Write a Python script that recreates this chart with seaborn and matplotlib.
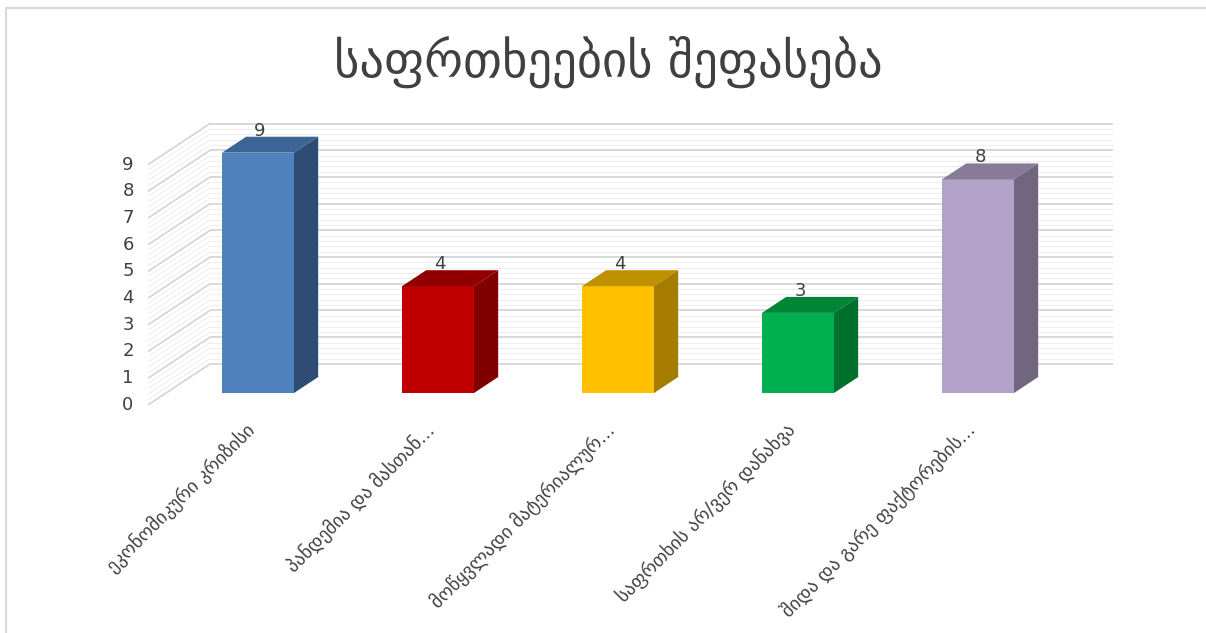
import matplotlib
matplotlib.use("Agg")
import matplotlib.pyplot as plt
from matplotlib.patches import Polygon
from matplotlib.lines import Line2D
import seaborn as sns
import pandas as pd
import numpy as np

# Chart data
title = "საფრთხეების შეფასება"
categories = [
    "ეკონომიკური კრიზისი",
    "პანდემია და მასთან...",
    "მოწყვლადი მატერიალურ...",
    "საფრთხის არ/ვერ დანახვა",
    "შიდა და გარე ფაქტორების...",
]
values = [9, 4, 4, 3, 8]
y_ticks = list(range(0, 10))

# Face colours (front, top, side) for each bar
front_colors = ["#4F81BD", "#C00000", "#FFC000", "#00B050", "#B3A2C7"]
top_colors = ["#3C6494", "#900000", "#BF9000", "#008536", "#887B98"]
side_colors = ["#2F4D74", "#800000", "#A67C00", "#00702E", "#706680"]

sns.set_theme(style="white")
plt.rcParams["font.family"] = ["DejaVu Sans"]

W, H = 1206, 633
fig = plt.figure(figsize=(W / 100, H / 100), dpi=100)
ax = fig.add_axes([0, 0, 1, 1])

df = pd.DataFrame({"category": categories, "value": values})
sns.barplot(data=df, x="category", y="value", hue="category",
            palette=front_colors, width=0.4, legend=False, ax=ax,
            saturation=1, linewidth=0, zorder=3)

# pixel scale of the data axes
px_x = 180.0      # pixels per category step
px_y = 26.7       # pixels per value unit
x0_px = 258.0     # first category centre (from left)
y0_px = 393.0     # baseline of bar fronts (from top)
ax.set_xlim(-x0_px / px_x, (W - x0_px) / px_x)
ax.set_ylim(-(H - y0_px) / px_y, y0_px / px_y)
ax.axis("off")

def dx(p):
    return p / px_x

def dy(p):
    return p / px_y

# depth vector of the box (front plane -> back wall), in pixels
depth_px = np.array([62.0, -41.0])
t_bar_front, t_bar_back = 0.29, 0.68

def depth_offset(t_from, t_to):
    d = depth_px * (t_to - t_from)
    return dx(d[0]), dy(-d[1])

# back wall and side wall gridlines
wall_dx, wall_dy = depth_offset(t_bar_front, 1.0)
front_dx, front_dy = depth_offset(t_bar_front, 0.0)
wall_left = dx(210 - x0_px)
wall_right = dx(1113 - x0_px)

minor_levels = np.arange(0, 9.0001, 0.2)
for lv in minor_levels:
    is_major = abs(lv - round(lv)) < 1e-6
    col = "#D6D6D6" if is_major else "#EEEEEE"
    lw = 1.3 if is_major else 0.8
    ax.plot([wall_left, wall_right], [lv + wall_dy, lv + wall_dy],
            color=col, lw=lw, zorder=1 if is_major else 0.5,
            solid_capstyle="butt")
    ax.plot([wall_left + front_dx - wall_dx, wall_left],
            [lv + front_dy, lv + wall_dy],
            color=col, lw=lw, zorder=1 if is_major else 0.5,
            solid_capstyle="butt")

# 3D top and side faces built from the seaborn bar rectangles
bdx, bdy = depth_offset(t_bar_front, t_bar_back)
bars = [p for p in ax.patches]
for i, bar in enumerate(bars):
    x0 = bar.get_x()
    x1 = x0 + bar.get_width()
    h = bar.get_height()
    top = Polygon([[x0, h], [x1, h], [x1 + bdx, h + bdy], [x0 + bdx, h + bdy]],
                  closed=True, facecolor=top_colors[i], edgecolor="none", zorder=3)
    side = Polygon([[x1, 0], [x1, h], [x1 + bdx, h + bdy], [x1 + bdx, bdy]],
                   closed=True, facecolor=side_colors[i], edgecolor="none", zorder=3)
    ax.add_patch(top)
    ax.add_patch(side)
    ax.text(bar.get_x() + bar.get_width() / 2 + dx(2), h + dy(22), f"{values[i]}",
            ha="center", va="center", fontsize=13, color="#404040", zorder=4)

# value axis labels on the front plane
for t in y_ticks:
    ax.text(dx(128 - x0_px), t + front_dy, str(t), ha="center", va="center",
            fontsize=13, color="#404040")

# category labels
for i, cat in enumerate(categories):
    ax.text(i + dx(-6), dy(-34), cat, rotation=45, rotation_mode="anchor",
            ha="right", va="center", fontsize=13.5, color="#404040")

# title
fig.text(608 / W, 1 - 62 / H, title, ha="center", va="center",
         fontsize=35, color="#404040")

# chart frame
fig.add_artist(Line2D([6 / W, 6 / W], [0, 1 - 8 / H], transform=fig.transFigure,
                      color="#D9D9D9", lw=1.5))
fig.add_artist(Line2D([6 / W, 1], [1 - 8 / H, 1 - 8 / H], transform=fig.transFigure,
                      color="#D9D9D9", lw=1.5))

fig.savefig("out.png", dpi=100, facecolor="white")
